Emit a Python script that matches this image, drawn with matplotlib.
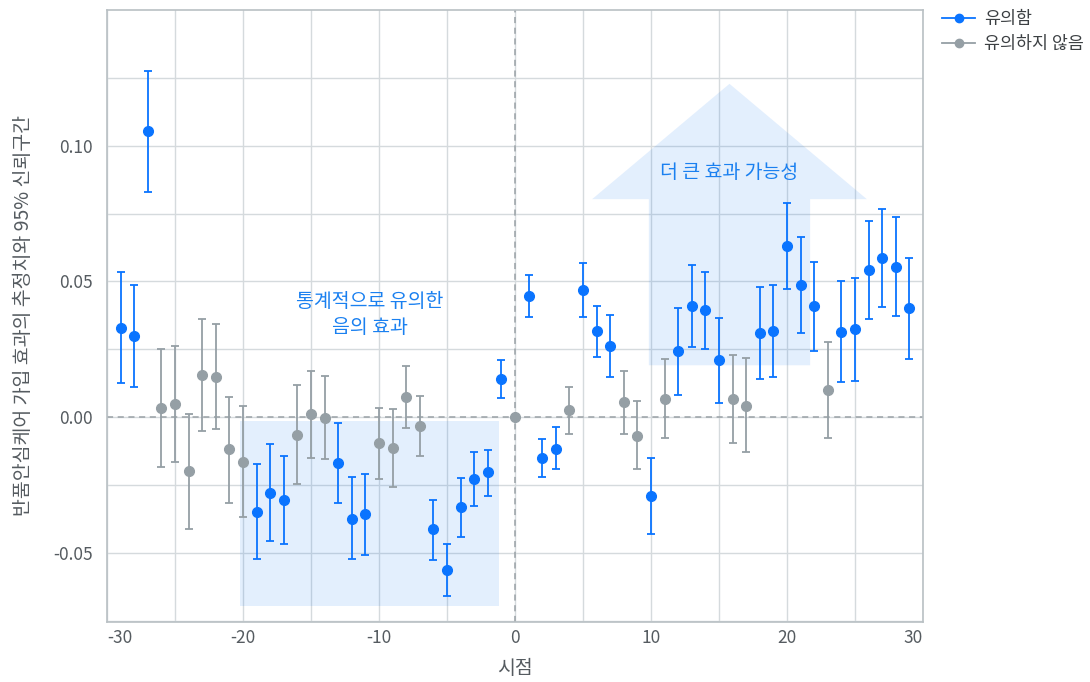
import numpy as np
import matplotlib
matplotlib.use('Agg')
import matplotlib.pyplot as plt
from matplotlib.patches import Rectangle, Polygon
from matplotlib.lines import Line2D

plt.rcParams['font.family'] = ['Noto Sans CJK KR', 'DejaVu Sans']

## Data
periods = list(range(-29, 30))
estimate = [0.0330, 0.0299, 0.1053, 0.0032, 0.0048, -0.0199, 0.0154, 0.0149, -0.0119, -0.0165,
            -0.0348, -0.0279, -0.0307, -0.0065, 0.0011, -0.0002, -0.0168, -0.0374, -0.0358, -0.0097,
            -0.0113, 0.0074, -0.0032, -0.0414, -0.0564, -0.0333, -0.0229, -0.0204, 0.0139,
            0.0000,
            0.0446, -0.0150, -0.0116, 0.0025, 0.0469, 0.0316, 0.0263, 0.0054, -0.0068, -0.0290,
            0.0068, 0.0242, 0.0410, 0.0395, 0.0209, 0.0068, 0.0042, 0.0311, 0.0317, 0.0632,
            0.0486, 0.0409, 0.0100, 0.0315, 0.0324, 0.0541, 0.0588, 0.0554, 0.0401]
lower = [0.0124, 0.0112, 0.0828, -0.0184, -0.0167, -0.0411, -0.0053, -0.0044, -0.0316, -0.0368,
         -0.0524, -0.0458, -0.0469, -0.0247, -0.0149, -0.0155, -0.0316, -0.0524, -0.0508, -0.0229,
         -0.0257, -0.0041, -0.0144, -0.0525, -0.0660, -0.0441, -0.0328, -0.0289, 0.0069,
         0.0000,
         0.0368, -0.0221, -0.0193, -0.0064, 0.0370, 0.0220, 0.0147, -0.0061, -0.0193, -0.0429,
         -0.0077, 0.0081, 0.0260, 0.0252, 0.0053, -0.0095, -0.0130, 0.0140, 0.0146, 0.0473,
         0.0309, 0.0245, -0.0076, 0.0129, 0.0134, 0.0360, 0.0407, 0.0371, 0.0215]
upper = [0.0533, 0.0486, 0.1277, 0.0251, 0.0263, 0.0012, 0.0360, 0.0342, 0.0075, 0.0041,
         -0.0172, -0.0098, -0.0143, 0.0119, 0.0171, 0.0150, -0.0021, -0.0220, -0.0208, 0.0034,
         0.0031, 0.0189, 0.0076, -0.0305, -0.0469, -0.0225, -0.0129, -0.0122, 0.0210,
         0.0000,
         0.0525, -0.0080, -0.0036, 0.0112, 0.0568, 0.0409, 0.0377, 0.0171, 0.0058, -0.0152,
         0.0215, 0.0403, 0.0560, 0.0536, 0.0366, 0.0227, 0.0216, 0.0481, 0.0488, 0.0788,
         0.0663, 0.0573, 0.0277, 0.0501, 0.0511, 0.0722, 0.0766, 0.0737, 0.0585]

series_labels = ['유의함', '유의하지 않음']
x_ticks = [-30, -20, -10, 0, 10, 20, 30]
y_ticks = [-0.05, 0.00, 0.05, 0.10]
neg_note = '통계적으로 유의한\n음의 효과'
pos_note = '더 큰 효과 가능성'

x = np.array(periods)
est = np.array(estimate)
lo = np.array(lower)
hi = np.array(upper)
sig = (lo > 0) | (hi < 0)

BLUE = '#0a74ff'
GRAY = '#959fa5'
SHADE = '#1a7ff5'
TEXT = '#555b60'
GRID = '#d5dadd'

fig = plt.figure(figsize=(10.9, 6.82), dpi=100)
ax = fig.add_axes([107/1090, 1 - 622/682, (923-107)/1090, (622-10)/682])

# highlight areas
ax.add_patch(Rectangle((-20.2, -0.0697), 19.0, 0.0682, facecolor=SHADE, alpha=0.12,
                       edgecolor='none', zorder=1))
cx, bw, hw = 15.77, 5.93, 10.1
arrow = [(cx-bw, 0.0191), (cx-bw, 0.0803), (cx-hw, 0.0803), (cx, 0.1228),
         (cx+hw, 0.0803), (cx+bw, 0.0803), (cx+bw, 0.0191)]
ax.add_patch(Polygon(arrow, closed=True, facecolor=SHADE, alpha=0.12, edgecolor='none', zorder=1))

ax.axhline(0, color='#9aa1a6', lw=1.1, ls=(0, (4, 3)), zorder=2)
ax.axvline(0, color='#9aa1a6', lw=1.1, ls=(0, (4, 3)), zorder=2)

for mask, col in [(~sig, GRAY), (sig, BLUE)]:
    yerr = np.vstack([est[mask] - lo[mask], hi[mask] - est[mask]])
    ax.errorbar(x[mask], est[mask], yerr=yerr, fmt='o', color=col, ecolor=col,
                markersize=7, mec=col, elinewidth=1.3, capsize=3, capthick=1.3,
                zorder=3)

ax.text(-10.65, 0.0378, neg_note, color='#1a80f0', fontsize=14, ha='center',
        va='center', linespacing=1.3, zorder=4)
ax.text(15.75, 0.0903, pos_note, color='#1a80f0', fontsize=14, ha='center',
        va='center', zorder=4)

ax.set_xlim(-30, 30)
ax.set_ylim(-0.0755, 0.150)
ax.set_xticks(x_ticks)
ax.set_xticks([-25, -15, -5, 5, 15, 25], minor=True)
ax.set_yticks(y_ticks)
ax.set_yticks([-0.075, -0.025, 0.025, 0.075, 0.125], minor=True)
ax.set_xticklabels([str(t) for t in x_ticks])
ax.set_yticklabels([f'{t:.2f}' for t in y_ticks])
xl = ax.get_xticklabels()
xl[0].set_ha('left')
xl[-1].set_ha('right')

ax.grid(True, which='both', color=GRID, lw=1.0)
ax.set_axisbelow(True)
ax.tick_params(which='both', length=0, labelsize=12.5, labelcolor=TEXT)
ax.tick_params(axis='x', pad=5)
ax.tick_params(axis='y', pad=10)
for s in ax.spines.values():
    s.set_color('#b9c0c4')
    s.set_linewidth(1.2)

ax.set_xlabel('시점', fontsize=14, color=TEXT, labelpad=8)
ax.set_ylabel('반품안심케어 가입 효과의 추정치와 95% 신뢰구간', fontsize=14, color=TEXT, labelpad=14)

handles = [Line2D([], [], color=BLUE, marker='o', markersize=6, mec=BLUE, lw=1.3),
           Line2D([], [], color=GRAY, marker='o', markersize=6, mec=GRAY, lw=1.3)]
leg = ax.legend(handles, series_labels, loc='upper left', bbox_to_anchor=(1.015, 1.012),
                frameon=False, fontsize=12.5, handlelength=1.9, handletextpad=0.5,
                labelspacing=0.45, borderaxespad=0)
for t in leg.get_texts():
    t.set_color('#3c4043')

fig.savefig('out.png', dpi=100)
